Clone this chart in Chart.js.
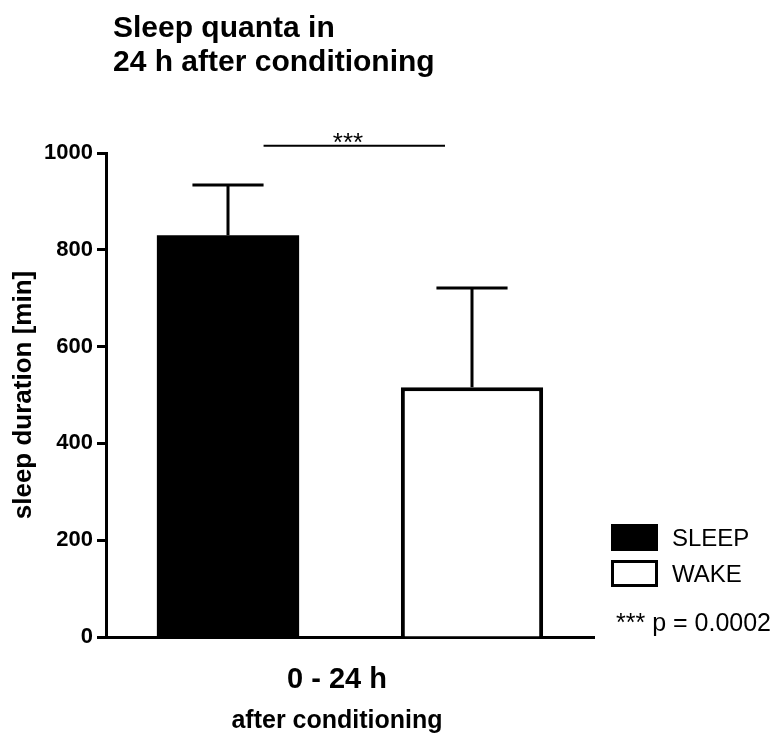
<!DOCTYPE html>
<html>
<head>
<meta charset="utf-8">
<script src="https://cdn.jsdelivr.net/npm/chart.js@4"></script>
<style>
  html, body { margin: 0; padding: 0; background: #fff; }
</style>
</head>
<body>
<canvas id="sleepChart" width="778" height="733"></canvas>
<script>
const FONT = "'Liberation Sans', Arial, Helvetica, sans-serif";

// values
const categories = ["0 - 24 h"];
const groups = ["SLEEP", "WAKE"];
const means = [830, 516];
const sem = [104, 205];
const yTicks = [0, 200, 400, 600, 800, 1000];
const sigLevel = 1015;          // height of the comparison bracket
const sigStars = "***";
const pNote = "*** p = 0.0002";
const titleLines = ["Sleep quanta in", "24 h after conditioning"];
const xTitle = "after conditioning";
const yTitle = "sleep duration [min]";

const fills = ["#000000", "#ffffff"];

// SEM whiskers on top of each bar
const errorBars = {
  id: "errorBars",
  afterDatasetsDraw(chart) {
    const { ctx } = chart;
    const y = chart.scales.y;
    ctx.save();
    ctx.strokeStyle = "#000";
    ctx.lineWidth = 3;
    groups.forEach((g, i) => {
      const bar = chart.getDatasetMeta(i).data[0];
      const top = y.getPixelForValue(means[i]);
      const tip = y.getPixelForValue(means[i] + sem[i]);
      const half = bar.width / 4;
      ctx.beginPath();
      ctx.moveTo(bar.x, top);
      ctx.lineTo(bar.x, tip);
      ctx.moveTo(bar.x - half, tip);
      ctx.lineTo(bar.x + half, tip);
      ctx.stroke();
    });
    ctx.restore();
  }
};

// title, bracket, legend and x caption
const annotations = {
  id: "annotations",
  afterDraw(chart) {
    const { ctx } = chart;
    const x = chart.scales.x;
    const y = chart.scales.y;
    ctx.save();
    ctx.fillStyle = "#000";
    ctx.textAlign = "left";
    ctx.textBaseline = "alphabetic";

    ctx.font = "bold 30px " + FONT;
    ctx.fillText(titleLines[0], 113, 37);
    ctx.fillText(titleLines[1], 113, 71);

    // significance bracket
    const b0 = chart.getDatasetMeta(0).data[0];
    const b1 = chart.getDatasetMeta(1).data[0];
    const sy = y.getPixelForValue(sigLevel);
    const x0 = b0.x + b0.width / 4;
    const x1 = b1.x - 27;
    ctx.lineWidth = 2;
    ctx.beginPath();
    ctx.moveTo(x0, sy);
    ctx.lineTo(x1, sy);
    ctx.stroke();
    ctx.font = "26px " + FONT;
    ctx.textAlign = "center";
    ctx.fillText(sigStars, (b0.x + b1.x) / 2 - 2, sy + 5);

    // x caption
    ctx.font = "bold 25px " + FONT;
    ctx.fillText(xTitle, x.getPixelForValue(0) - 13, 728);

    // legend
    ctx.textAlign = "left";
    ctx.font = "24px " + FONT;
    groups.forEach((g, i) => {
      const top = 524 + i * 36;
      ctx.fillStyle = fills[i];
      ctx.fillRect(611, top, 47, 27);
      ctx.strokeStyle = "#000";
      ctx.lineWidth = 3;
      if (i > 0) ctx.strokeRect(612.5, top + 1.5, 44, 24);
      ctx.fillStyle = "#000";
      ctx.fillText(g, 672, top + 22);
    });
    ctx.font = "25px " + FONT;
    ctx.fillText(pNote, 616, 631);
    ctx.restore();
  }
};

const chart = new Chart(document.getElementById("sleepChart"), {
  type: "bar",
  data: {
    labels: categories,
    datasets: groups.map((g, i) => ({
      label: g,
      data: [means[i]],
      backgroundColor: fills[i],
      borderColor: "#000",
      borderWidth: i === 0 ? 0 : 4,
      categoryPercentage: 1.0,
      barPercentage: 0.583
    }))
  },
  options: {
    responsive: false,
    devicePixelRatio: 1,
    animation: false,
    layout: { padding: { left: 0, right: 184, top: 153, bottom: 0 } },
    plugins: {
      legend: { display: false },
      tooltip: { enabled: false }
    },
    scales: {
      x: {
        z: 1,
        grid: { display: false },
        border: { display: true, color: "#000", width: 3 },
        ticks: {
          color: "#000",
          padding: 18,
          labelOffset: -13,
          font: { family: FONT, size: 29, weight: "bold" }
        },
        afterFit: s => { s.height = 96; }
      },
      y: {
        z: 1,
        min: 0,
        max: 1000,
        afterBuildTicks: s => { s.ticks = yTicks.map(v => ({ value: v })); },
        grid: {
          drawOnChartArea: false,
          tickLength: 9,
          tickWidth: 3,
          tickColor: "#000"
        },
        border: { display: true, color: "#000", width: 3 },
        ticks: {
          color: "#000",
          padding: 4,
          callback: v => String(v),
          font: { family: FONT, size: 22, weight: "bold" }
        },
        title: {
          display: true,
          text: yTitle,
          color: "#000",
          padding: { top: 8, bottom: 0 },
          font: { family: FONT, size: 26, weight: "bold" }
        },
        afterFit: s => { s.width = 106; }
      }
    }
  },
  plugins: [errorBars, annotations]
});
</script>
</body>
</html>
